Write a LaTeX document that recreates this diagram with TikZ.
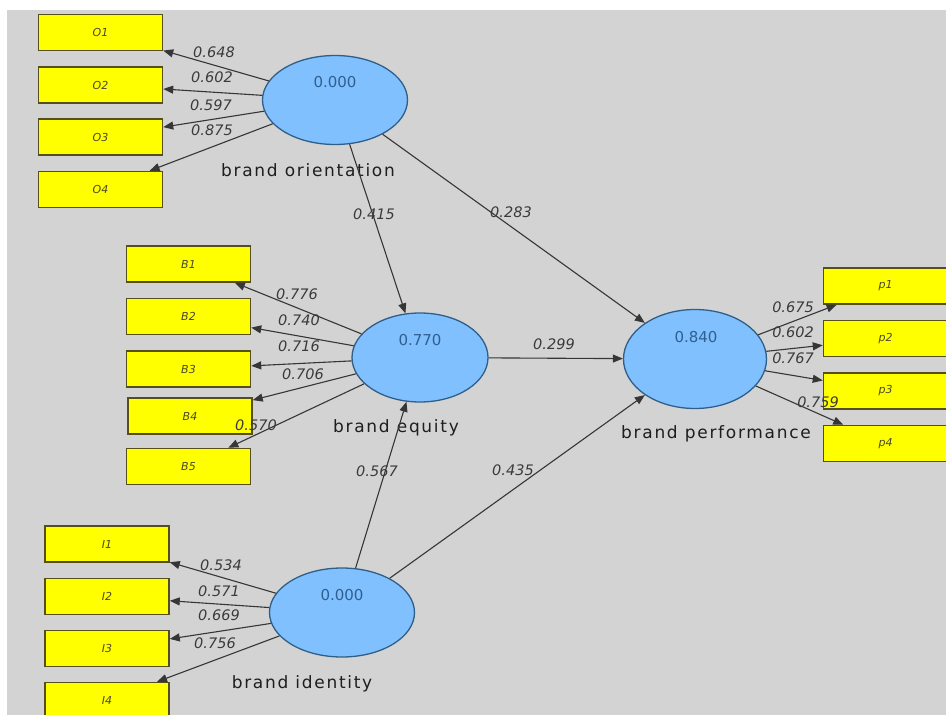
\documentclass[tikz,border=0pt]{standalone}
\usepackage{fontspec}
\usetikzlibrary{shapes.geometric,arrows.meta}
\newfontfamily\latentfont[LetterSpace=10]{DejaVu Sans}
\newfontfamily\numfont{DejaVu Sans}
\definecolor{canvas}{HTML}{D3D3D3}
\definecolor{boxfill}{HTML}{FFFF00}
\definecolor{boxedge}{HTML}{55501A}
\definecolor{boxtext}{HTML}{4A4A2A}
\definecolor{latfill}{HTML}{80C0FF}
\definecolor{latedge}{HTML}{2F5F88}
\definecolor{valtext}{HTML}{2F5F8F}
\definecolor{loadtext}{HTML}{3A3A3A}
\definecolor{nametext}{HTML}{1E1E1E}
\definecolor{linecol}{HTML}{363636}
\tikzset{
  indicator/.style={draw=boxedge, fill=boxfill, line width=1.5pt,
    minimum width=124pt, minimum height=36pt, inner sep=0pt,
    font=\numfont\itshape\fontsize{11}{13}\selectfont, text=boxtext},
  latent/.style={ellipse, draw=latedge, fill=latfill, line width=1.3pt, inner sep=0pt},
  lvvalue/.style={font=\numfont\fontsize{15}{17}\selectfont, text=valtext, inner sep=0pt},
  loading/.style={font=\numfont\itshape\fontsize{14.5}{16}\selectfont, text=loadtext, inner sep=0pt},
  lvname/.style={font=\latentfont\fontsize{17}{20}\selectfont, text=nametext, inner sep=0pt},
  link/.style={draw=linecol, line width=1.1pt, -{Triangle[length=10pt,width=8pt]}}
}
\begin{document}
\begin{tikzpicture}[x=1pt,y=-1pt]
  % canvas
  \useasboundingbox (0,0) rectangle (946,715);
  \clip (0,0) rectangle (946,715);
  \fill[white] (0,0) rectangle (946,715);
  \fill[canvas] (7,10) rectangle (946,715);

  % indicator boxes
  \node[indicator] (O1) at (100.5,32.5) {O1};
  \node[indicator] (O2) at (100.5,85) {O2};
  \node[indicator] (O3) at (100.5,137) {O3};
  \node[indicator] (O4) at (100.5,189.5) {O4};

  \node[indicator] (B1) at (188.5,264) {B1};
  \node[indicator] (B2) at (188.5,316.5) {B2};
  \node[indicator] (B3) at (188.5,369) {B3};
  \node[indicator] (B4) at (190,416) {B4};
  \node[indicator] (B5) at (188.5,466.5) {B5};

  \node[indicator] (I1) at (107,544) {I1};
  \node[indicator] (I2) at (107,596.5) {I2};
  \node[indicator] (I3) at (107,648.5) {I3};
  \node[indicator] (I4) at (107,700.5) {I4};

  \node[indicator] (P1) at (885.5,286) {p1};
  \node[indicator] (P2) at (885.5,338.5) {p2};
  \node[indicator] (P3) at (885.5,391) {p3};
  \node[indicator] (P4) at (885.5,443.5) {p4};

  % latent variables
  \node[latent, minimum width=145pt, minimum height=89pt] (BO) at (335,100) {};
  \node[latent, minimum width=136pt, minimum height=89pt] (BE) at (420,357.5) {};
  \node[latent, minimum width=145pt, minimum height=89pt] (BI) at (342,612.5) {};
  \node[latent, minimum width=143pt, minimum height=99pt] (BP) at (695,359) {};

  \node[lvvalue] (vBO) at (335,82) {0.000};
  \node[lvvalue] (vBE) at (420,340) {0.770};
  \node[lvvalue] (vBI) at (342,595) {0.000};
  \node[lvvalue] (vBP) at (696,337) {0.840};

  \node[lvname] (nBO) at (308,170) {brand orientation};
  \node[lvname] (nBE) at (396,428) {brand equity};
  \node[lvname] (nBI) at (302,684) {brand identity};
  \node[lvname] (nBP) at (716,434) {brand performance};

  % outer model
  \foreach \k in {O1,O2,O3,O4} \draw[link] (BO) -- (\k);
  \foreach \k in {B1,B2,B3,B4,B5} \draw[link] (BE) -- (\k);
  \foreach \k in {I1,I2,I3,I4} \draw[link] (BI) -- (\k);
  \foreach \k in {P1,P2,P3,P4} \draw[link] (BP) -- (\k);

  % inner model
  \draw[link] (BO) -- (BE);
  \draw[link] (BO) -- (BP);
  \draw[link] (BE) -- (BP);
  \draw[link] (BI) -- (BE);
  \draw[link] (BI) -- (BP);

  % loadings
  \node[loading] (lO1) at (214,52) {0.648};
  \node[loading] (lO2) at (212,77) {0.602};
  \node[loading] (lO3) at (211,105) {0.597};
  \node[loading] (lO4) at (212,130) {0.875};

  \node[loading] (lB1) at (297,294) {0.776};
  \node[loading] (lB2) at (299,320) {0.740};
  \node[loading] (lB3) at (299,346) {0.716};
  \node[loading] (lB4) at (303,374) {0.706};
  \node[loading] (lB5) at (256,425) {0.570};

  \node[loading] (lI1) at (221,565) {0.534};
  \node[loading] (lI2) at (219,591) {0.571};
  \node[loading] (lI3) at (219,615) {0.669};
  \node[loading] (lI4) at (215,643) {0.756};

  \node[loading] (lP1) at (793,307) {0.675};
  \node[loading] (lP2) at (793,332) {0.602};
  \node[loading] (lP3) at (793,358) {0.767};
  \node[loading] (lP4) at (818,402) {0.759};

  % path coefficients
  \node[loading] (cOE) at (374,214) {0.415};
  \node[loading] (cOP) at (511,212) {0.283};
  \node[loading] (cEP) at (554,344) {0.299};
  \node[loading] (cIE) at (377,471) {0.567};
  \node[loading] (cIP) at (513,470) {0.435};
\end{tikzpicture}
\end{document}
